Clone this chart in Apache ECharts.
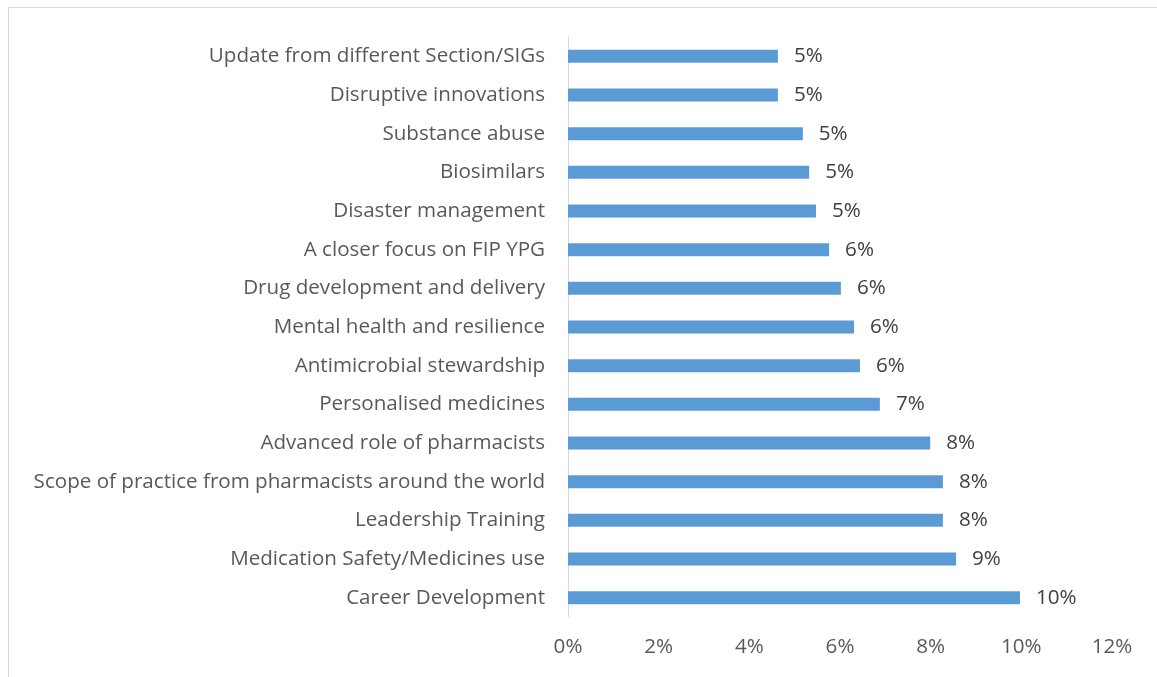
<!DOCTYPE html>
<html>
<head>
<meta charset="utf-8">
<script src="https://cdn.jsdelivr.net/npm/echarts@6/dist/echarts.min.js"></script>
<style>
  html, body { margin: 0; padding: 0; background: #fff; }
  #frame { position: absolute; left: 8px; top: 7px; width: 1160px; height: 680px;
           border-left: 1px solid #d9d9d9; border-top: 1px solid #d9d9d9; }
  #main { position: absolute; left: 0; top: 0; width: 1157px; height: 677px; }
</style>
</head>
<body>
<div id="frame"></div>
<div id="main"></div>
<script>
// bottom to top, as the y axis draws them
var topics = [
    'Career Development',
    'Medication Safety/Medicines use',
    'Leadership Training',
    'Scope of practice from pharmacists around the world',
    'Advanced role of pharmacists',
    'Personalised medicines',
    'Antimicrobial stewardship',
    'Mental health and resilience',
    'Drug development and delivery',
    'A closer focus on FIP YPG',
    'Disaster management',
    'Biosimilars',
    'Substance abuse',
    'Disruptive innovations',
    'Update from different Section/SIGs'
];
var shares = [9.97, 8.56, 8.27, 8.27, 7.99, 6.88, 6.44, 6.31, 6.02, 5.76, 5.47, 5.32, 5.18, 4.63, 4.63];

var font = '"Open Sans", "Liberation Sans", sans-serif';
var fs = 20.6;

var chart = echarts.init(document.getElementById('main'));
chart.setOption({
    animation: false,
    grid: { left: 568, right: 45, top: 37, bottom: 60 },
    xAxis: {
        type: 'value',
        min: 0,
        max: 12,
        interval: 2,
        axisLine: { show: false },
        axisTick: { show: false },
        splitLine: { show: false },
        axisLabel: {
            margin: 20,
            color: '#595959',
            fontSize: fs,
            fontFamily: font,
            formatter: function (v) { return v + '%'; }
        }
    },
    yAxis: {
        type: 'category',
        data: topics,
        axisLine: { show: true, lineStyle: { color: '#d9d9d9', width: 1 } },
        axisTick: { show: false },
        axisLabel: {
            margin: 23,
            color: '#595959',
            fontSize: fs,
            fontFamily: font
        }
    },
    series: [{
        type: 'bar',
        data: shares,
        barWidth: 13,
        itemStyle: { color: '#5b9bd5' },
        label: {
            show: true,
            position: 'right',
            distance: 16,
            color: '#404040',
            fontSize: fs,
            fontFamily: font,
            formatter: function (p) { return Math.round(p.value) + '%'; }
        }
    }]
});
</script>
</body>
</html>
